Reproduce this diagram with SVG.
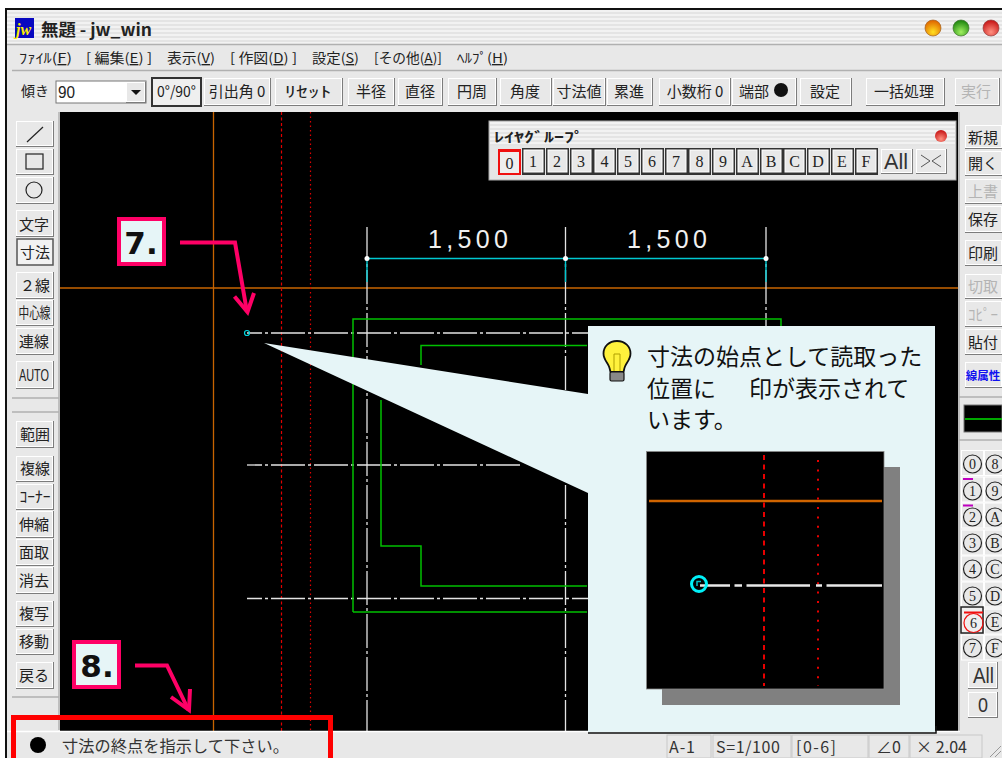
<svg xmlns="http://www.w3.org/2000/svg" width="1002" height="758" viewBox="0 0 1002 758">
<style>
text{font-family:"Noto Sans CJK JP","Liberation Sans",sans-serif;fill:#222}
.b{fill:#7c7c7c}
.f{fill:#e8e8e8;stroke:#fff;stroke-width:1}
.p{fill:#efefef;stroke:#333;stroke-width:2}
.t{font-size:15px;text-anchor:middle}
.m{font-size:13.5px}
.mono{font-family:"Liberation Serif",serif;font-size:16px;text-anchor:middle}
.cn{font-family:"Liberation Serif",serif;font-size:14px;text-anchor:middle}
.c{fill:none;stroke:#222;stroke-width:1.2}
.line{fill:none;stroke-width:1.3}
.dd{stroke:#e4e4e4;stroke-dasharray:34 3 3 3}
.gr{stroke:#00c000;stroke-width:1.5;fill:none}
.cy{stroke:#00c8d0;stroke-width:1.4;fill:none}
.pink{fill:none;stroke:#ff0066;stroke-width:4;stroke-linejoin:miter}
.box{fill:#e6f5f7;stroke:#ff0066;stroke-width:4}
.num{font-family:"DejaVu Sans",sans-serif;font-weight:700;font-size:31px;fill:#111;text-anchor:middle}
.sep{stroke:#b0b0b0;stroke-width:1.5;fill:none}
.cell{fill:#e8e8e8;stroke:#c8c8c8;stroke-width:1}
.s{font-size:16px;fill:#333}
.dim{font-family:"Liberation Sans",sans-serif;font-size:25px;fill:#f0f0f0}
.off{fill:#b4b4b4}
.lb{fill:#333}
</style>
<defs>
<pattern id="stripes" width="4" height="4" patternUnits="userSpaceOnUse"><rect width="4" height="4" fill="#f2f2f2"/><rect width="4" height="2" fill="#e4e4e4"/></pattern>
<radialGradient id="og" cx=".5" cy=".75" r=".7"><stop offset="0" stop-color="#ffe020"/><stop offset="1" stop-color="#e06800"/></radialGradient>
<radialGradient id="gg" cx=".5" cy=".75" r=".7"><stop offset="0" stop-color="#a0f060"/><stop offset="1" stop-color="#208810"/></radialGradient>
<radialGradient id="rg" cx=".5" cy=".75" r=".7"><stop offset="0" stop-color="#ff9080"/><stop offset="1" stop-color="#c81818"/></radialGradient>
</defs>
<rect width="1002" height="758" fill="#fff"/>
<g id="window">
<rect x="5" y="8" width="997" height="750" fill="#111"/>
<rect x="7" y="10" width="995" height="748" fill="#e8e8e8"/>
<rect x="7" y="10" width="995" height="34" fill="url(#stripes)"/>
<path class="sep" d="M7 44.5H1002M12 70.5H1002"/>
</g>
<g id="titlebar">
<rect x="15" y="18" width="19" height="20" fill="#0808c0"/>
<text x="16" y="35" font-size="16" font-weight="700" font-style="italic" style="font-family:'Liberation Serif',serif;fill:#ffee00">jw</text>
<text x="41" y="36" font-size="16.5" font-weight="700" textLength="111" lengthAdjust="spacingAndGlyphs">無題 - jw_win</text>
<circle cx="933" cy="28" r="8" fill="url(#og)" stroke="#a06020" stroke-width=".7"/>
<circle cx="961" cy="28" r="8" fill="url(#gg)" stroke="#407030" stroke-width=".7"/>
<circle cx="991" cy="28" r="8" fill="url(#rg)" stroke="#904040" stroke-width=".7"/>
</g>
<g id="menu">
<text class="m" x="19" y="63" textLength="53" lengthAdjust="spacingAndGlyphs">ﾌｧｲﾙ(<tspan text-decoration="underline">F</tspan>)</text>
<text class="m" x="86" y="63" textLength="66" lengthAdjust="spacingAndGlyphs">[ 編集(<tspan text-decoration="underline">E</tspan>) ]</text>
<text class="m" x="167" y="63" textLength="48" lengthAdjust="spacingAndGlyphs">表示(<tspan text-decoration="underline">V</tspan>)</text>
<text class="m" x="230" y="63" textLength="67" lengthAdjust="spacingAndGlyphs">[ 作図(<tspan text-decoration="underline">D</tspan>) ]</text>
<text class="m" x="312" y="63" textLength="47" lengthAdjust="spacingAndGlyphs">設定(<tspan text-decoration="underline">S</tspan>)</text>
<text class="m" x="374" y="63" textLength="68" lengthAdjust="spacingAndGlyphs">[その他(<tspan text-decoration="underline">A</tspan>)]</text>
<text class="m" x="457" y="63" textLength="51" lengthAdjust="spacingAndGlyphs">ﾍﾙﾌﾟ(<tspan text-decoration="underline">H</tspan>)</text>
</g>
<g id="toolbar">
<text class="t" x="35" y="96" style="font-size:14px">傾き</text>
<rect x="56" y="81" width="90" height="22" fill="#fff" stroke="#777"/>
<text x="58" y="98" style="font-size:17px;font-family:'Liberation Sans',sans-serif" textLength="17" lengthAdjust="spacingAndGlyphs">90</text>
<rect class="b" x="126" y="82" width="20" height="21"/><rect class="f" x="126.500" y="82.500" width="18" height="19"/>
<path d="M131 90h10l-5 5z" fill="#111"/>
<rect class="p" x="152" y="78" width="49" height="28"/><text class="t" x="176.500" y="97" textLength="39" lengthAdjust="spacingAndGlyphs">0°/90°</text>
<rect class="b" x="204" y="78" width="67" height="28"/><rect class="f" x="204.500" y="78.500" width="65" height="26"/><text class="t" x="237" y="97">引出角 0</text>
<rect class="b" x="275" y="78" width="68" height="28"/><rect class="f" x="275.500" y="78.500" width="66" height="26"/><text class="t" x="308" y="97" textLength="47" lengthAdjust="spacingAndGlyphs">ﾘｾｯﾄ</text>
<rect class="b" x="348" y="78" width="47" height="28"/><rect class="f" x="348.500" y="78.500" width="45" height="26"/><text class="t" x="371" y="97">半径</text>
<rect class="b" x="398" y="78" width="45" height="28"/><rect class="f" x="398.500" y="78.500" width="43" height="26"/><text class="t" x="420" y="97">直径</text>
<rect class="b" x="448" y="78" width="49" height="28"/><rect class="f" x="448.500" y="78.500" width="47" height="26"/><text class="t" x="472" y="97">円周</text>
<rect class="b" x="500" y="78" width="52" height="28"/><rect class="f" x="500.500" y="78.500" width="50" height="26"/><text class="t" x="525" y="97">角度</text>
<rect class="b" x="553" y="78" width="53" height="28"/><rect class="f" x="553.500" y="78.500" width="51" height="26"/><text class="t" x="579" y="97">寸法値</text>
<rect class="b" x="607" y="78" width="46" height="28"/><rect class="f" x="607.500" y="78.500" width="44" height="26"/><text class="t" x="629" y="97">累進</text>
<rect class="b" x="659" y="78" width="72" height="28"/><rect class="f" x="659.500" y="78.500" width="70" height="26"/><text class="t" x="695" y="97">小数桁 0</text>
<rect class="b" x="732" y="78" width="65" height="28"/><rect class="f" x="732.500" y="78.500" width="63" height="26"/><text class="t" x="754" y="97">端部</text><circle cx="781" cy="90" r="7" fill="#111"/>
<rect class="b" x="800" y="78" width="52" height="28"/><rect class="f" x="800.500" y="78.500" width="50" height="26"/><text class="t" x="825" y="97">設定</text>
<rect class="b" x="866" y="78" width="79" height="28"/><rect class="f" x="866.500" y="78.500" width="77" height="26"/><text class="t" x="904" y="97">一括処理</text>
<rect class="b" x="955" y="78" width="45" height="28"/><rect class="f" x="955.500" y="78.500" width="43" height="26"/><text class="t off" x="976" y="97">実行</text>
</g>
<g id="left-tools">
<path class="sep" d="M59 112V730M12 398H59M12 412H59M12 697H59"/>
<rect class="b" x="16" y="121" width="38" height="26"/><rect class="f" x="16.500" y="121.500" width="36" height="24"/><path class="c" d="M27 142L43 127"/>
<rect class="b" x="16" y="149" width="38" height="26"/><rect class="f" x="16.500" y="149.500" width="36" height="24"/><rect class="c" x="26" y="154" width="17" height="15"/>
<rect class="b" x="16" y="177" width="38" height="27"/><rect class="f" x="16.500" y="177.500" width="36" height="25"/><circle class="c" cx="34" cy="190" r="8"/>
<rect class="b" x="16" y="210" width="38" height="27"/><rect class="f" x="16.500" y="210.500" width="36" height="25"/><text class="t" x="34" y="230">文字</text>
<rect x="17" y="239" width="36" height="26" fill="#f2f2f2" stroke="#555" stroke-width="1.5"/><text class="t" x="35" y="258">寸法</text>
<rect class="b" x="16" y="272" width="38" height="27"/><rect class="f" x="16.500" y="272.500" width="36" height="25"/><text class="t" x="35" y="291">２線</text>
<rect class="b" x="16" y="300" width="38" height="26"/><rect class="f" x="16.500" y="300.500" width="36" height="24"/><text class="t" x="34.500" y="318" textLength="32" lengthAdjust="spacingAndGlyphs">中心線</text>
<rect class="b" x="16" y="328" width="38" height="27"/><rect class="f" x="16.500" y="328.500" width="36" height="25"/><text class="t" x="34" y="347">連線</text>
<rect class="b" x="16" y="361" width="38" height="28"/><rect class="f" x="16.500" y="361.500" width="36" height="26"/><text class="t" x="34" y="381" style="font-size:17px;font-family:'Liberation Sans',sans-serif" textLength="30" lengthAdjust="spacingAndGlyphs">AUTO</text>
<rect class="b" x="16" y="421" width="38" height="27"/><rect class="f" x="16.500" y="421.500" width="36" height="25"/><text class="t" x="35" y="440">範囲</text>
<rect class="b" x="16" y="456" width="38" height="26"/><rect class="f" x="16.500" y="456.500" width="36" height="24"/><text class="t" x="35" y="474">複線</text>
<rect class="b" x="16" y="484" width="38" height="26"/><rect class="f" x="16.500" y="484.500" width="36" height="24"/><text class="t" x="35" y="502" textLength="31" lengthAdjust="spacingAndGlyphs">ｺｰﾅｰ</text>
<rect class="b" x="16" y="511" width="38" height="27"/><rect class="f" x="16.500" y="511.500" width="36" height="25"/><text class="t" x="34" y="530">伸縮</text>
<rect class="b" x="16" y="539" width="38" height="27"/><rect class="f" x="16.500" y="539.500" width="36" height="25"/><text class="t" x="34" y="558">面取</text>
<rect class="b" x="16" y="567" width="38" height="27"/><rect class="f" x="16.500" y="567.500" width="36" height="25"/><text class="t" x="34" y="586">消去</text>
<rect class="b" x="16" y="601" width="38" height="26"/><rect class="f" x="16.500" y="601.500" width="36" height="24"/><text class="t" x="34" y="619">複写</text>
<rect class="b" x="16" y="629" width="38" height="26"/><rect class="f" x="16.500" y="629.500" width="36" height="24"/><text class="t" x="34" y="647">移動</text>
<rect class="b" x="16" y="662" width="38" height="27"/><rect class="f" x="16.500" y="662.500" width="36" height="25"/><text class="t" x="34" y="681">戻る</text>
</g>
<g id="canvas">
<rect x="60" y="112" width="898" height="619" fill="#000"/>
<path d="M213.500 112V731M60 288H958" stroke="#c86400" stroke-width="1.300" fill="none"/>
<path d="M281.500 112V731" stroke="#e00000" stroke-width="1.200" stroke-dasharray="3 2.500"/>
<path d="M310.500 112V731" stroke="#e00000" stroke-width="1.200" stroke-dasharray="1.500 3"/>
<path class="line dd" d="M247 333H588" stroke-dashoffset="19"/>
<path class="line dd" d="M247 465H520" stroke-dashoffset="19"/>
<path class="line dd" d="M247 598.500H588" stroke-dashoffset="19"/>
<path class="line dd" d="M367 227V731"/>
<path class="line dd" d="M565.500 227V731"/>
<path class="line dd" d="M766 227V330"/>
<path class="gr" d="M353 400V319H781V326M353 612H587M353 319V612"/>
<path class="gr" d="M421 365V345.500H587M381 400V546H421V586H587"/>
<path class="cy" d="M367 258.500H766M367 258V282M565.500 258V282M766 258V282"/>
<g fill="#fff"><circle cx="367" cy="258.500" r="2.500"/><circle cx="565.500" cy="258.500" r="2.500"/><circle cx="766" cy="258.500" r="2.500"/></g>
<text class="dim" x="428" y="248" textLength="80">1,500</text>
<text class="dim" x="627" y="248" textLength="80">1,500</text>
<circle cx="247" cy="333" r="2.500" fill="none" stroke="#00d8e0" stroke-width="1.200"/>
</g>
<g id="layer-group">
<rect x="489" y="121" width="467" height="59" fill="#e6e6e6" stroke="#aaa"/>
<rect x="490" y="122" width="465" height="24" fill="url(#stripes)"/>
<text x="494" y="142" style="font-size:13.500px;font-weight:700" textLength="90" lengthAdjust="spacingAndGlyphs">ﾚｲﾔｸﾞﾙｰﾌﾟ</text>
<circle cx="941" cy="136" r="6" fill="url(#rg)"/>
<rect x="499" y="150" width="21" height="24" fill="#eee" stroke="#f01010" stroke-width="2"/><path d="M499 150.500h21" stroke="#f01010" stroke-width="3"/><text class="mono" x="509.500" y="169">0</text>
<g id="layer-buttons">
<rect class="b" x="522" y="148" width="23" height="27" style="fill:#333"/><rect class="f" x="524" y="150" width="19" height="22"/><text class="mono" x="533" y="167">1</text>
<rect class="b" x="546" y="148" width="23" height="27" style="fill:#333"/><rect class="f" x="548" y="150" width="19" height="22"/><text class="mono" x="557" y="167">2</text>
<rect class="b" x="570" y="148" width="23" height="27" style="fill:#333"/><rect class="f" x="572" y="150" width="19" height="22"/><text class="mono" x="581" y="167">3</text>
<rect class="b" x="593" y="148" width="23" height="27" style="fill:#333"/><rect class="f" x="595" y="150" width="19" height="22"/><text class="mono" x="604.500" y="167">4</text>
<rect class="b" x="617" y="148" width="23" height="27" style="fill:#333"/><rect class="f" x="619" y="150" width="19" height="22"/><text class="mono" x="628" y="167">5</text>
<rect class="b" x="641" y="148" width="23" height="27" style="fill:#333"/><rect class="f" x="643" y="150" width="19" height="22"/><text class="mono" x="652" y="167">6</text>
<rect class="b" x="665" y="148" width="23" height="27" style="fill:#333"/><rect class="f" x="667" y="150" width="19" height="22"/><text class="mono" x="676" y="167">7</text>
<rect class="b" x="688" y="148" width="23" height="27" style="fill:#333"/><rect class="f" x="690" y="150" width="19" height="22"/><text class="mono" x="699.500" y="167">8</text>
<rect class="b" x="712" y="148" width="23" height="27" style="fill:#333"/><rect class="f" x="714" y="150" width="19" height="22"/><text class="mono" x="723" y="167">9</text>
<rect class="b" x="736" y="148" width="23" height="27" style="fill:#333"/><rect class="f" x="738" y="150" width="19" height="22"/><text class="mono" x="747" y="167">A</text>
<rect class="b" x="760" y="148" width="23" height="27" style="fill:#333"/><rect class="f" x="762" y="150" width="19" height="22"/><text class="mono" x="771" y="167">B</text>
<rect class="b" x="783" y="148" width="23" height="27" style="fill:#333"/><rect class="f" x="785" y="150" width="19" height="22"/><text class="mono" x="794.500" y="167">C</text>
<rect class="b" x="807" y="148" width="23" height="27" style="fill:#333"/><rect class="f" x="809" y="150" width="19" height="22"/><text class="mono" x="818" y="167">D</text>
<rect class="b" x="831" y="148" width="23" height="27" style="fill:#333"/><rect class="f" x="833" y="150" width="19" height="22"/><text class="mono" x="842" y="167">E</text>
<rect class="b" x="855" y="148" width="23" height="27" style="fill:#333"/><rect class="f" x="857" y="150" width="19" height="22"/><text class="mono" x="866" y="167">F</text>
</g>
<rect class="b" x="881" y="149" width="32" height="25"/><rect class="f" x="881.500" y="149.500" width="30" height="23"/><text class="lb" x="884" y="169" style="font-size:22px;font-family:'Liberation Sans',sans-serif" textLength="24" lengthAdjust="spacingAndGlyphs">All</text>
<rect class="b" x="916" y="149" width="31" height="25"/><rect class="f" x="916.500" y="149.500" width="29" height="23"/><path d="M921 155l9 6-9 6M941 155l-9 6 9 6" fill="none" stroke="#555" stroke-width="1"/>
</g>
<g id="right-tools">
<path class="sep" d="M959 112V731M959 397H1002M959 440H1002"/>
<rect class="b" x="965" y="125" width="37" height="24"/><rect class="f" x="965.500" y="125.500" width="36" height="22"/><text class="t" x="983" y="143">新規</text>
<rect class="b" x="965" y="151" width="37" height="25"/><rect class="f" x="965.500" y="151.500" width="36" height="23"/><text class="t" x="983" y="169">開く</text>
<rect class="b" x="965" y="179" width="37" height="25"/><rect class="f" x="965.500" y="179.500" width="36" height="23"/><text class="t off" x="983" y="197">上書</text>
<rect class="b" x="965" y="206" width="37" height="27"/><rect class="f" x="965.500" y="206.500" width="36" height="25"/><text class="t" x="983" y="225">保存</text>
<rect class="b" x="965" y="240" width="37" height="26"/><rect class="f" x="965.500" y="240.500" width="36" height="24"/><text class="t" x="983" y="259">印刷</text>
<rect class="b" x="965" y="274" width="37" height="25"/><rect class="f" x="965.500" y="274.500" width="36" height="23"/><text class="t off" x="983" y="292">切取</text>
<rect class="b" x="965" y="301" width="37" height="26"/><rect class="f" x="965.500" y="301.500" width="36" height="24"/><text class="t off" x="983" y="320" textLength="30" lengthAdjust="spacingAndGlyphs">ｺﾋﾟｰ</text>
<rect class="b" x="965" y="329" width="37" height="26"/><rect class="f" x="965.500" y="329.500" width="36" height="24"/><text class="t" x="983" y="348">貼付</text>
<rect class="b" x="965" y="362" width="37" height="26"/><rect class="f" x="965.500" y="362.500" width="36" height="24"/><text class="t" x="983" y="380" style="fill:#1010f0;font-size:11.500px;font-weight:700">線属性</text>
<rect x="964" y="405" width="38" height="27" fill="#000" stroke="#777"/><path d="M965 419H1002" stroke="#00e000" stroke-width="1.300"/>
</g>
<g id="line-buttons">
<g id="circle-row-0"><rect class="f" x="961.500" y="450.500" width="22" height="25"/><circle class="c" cx="972.500" cy="464" r="9"/><text class="cn" x="972.500" y="469">0</text><rect class="f" x="984.500" y="450.500" width="18" height="25"/><circle class="c" cx="995" cy="464" r="9"/><text class="cn" x="995" y="469">8</text></g>
<g id="circle-row-1"><rect class="f" x="961.500" y="477" width="22" height="25"/><path d="M963 479h10" stroke="#c000c0" stroke-width="2"/><circle class="c" cx="972.500" cy="491" r="9"/><text class="cn" x="972.500" y="496">1</text><rect class="f" x="984.500" y="477" width="18" height="25"/><circle class="c" cx="995" cy="491" r="9"/><text class="cn" x="995" y="496">9</text></g>
<g id="circle-row-2"><rect class="f" x="961.500" y="503" width="22" height="25"/><path d="M963 505.500h10" stroke="#c000c0" stroke-width="2"/><circle class="c" cx="972.500" cy="517" r="9"/><text class="cn" x="972.500" y="522">2</text><rect class="f" x="984.500" y="503" width="18" height="25"/><circle class="c" cx="995" cy="517" r="9"/><text class="cn" x="995" y="522">A</text></g>
<g id="circle-row-3"><rect class="f" x="961.500" y="530" width="22" height="25"/><circle class="c" cx="972.500" cy="543" r="9"/><text class="cn" x="972.500" y="548">3</text><rect class="f" x="984.500" y="530" width="18" height="25"/><circle class="c" cx="995" cy="543" r="9"/><text class="cn" x="995" y="548">B</text></g>
<g id="circle-row-4"><rect class="f" x="961.500" y="556" width="22" height="25"/><circle class="c" cx="972.500" cy="569" r="9"/><text class="cn" x="972.500" y="574">4</text><rect class="f" x="984.500" y="556" width="18" height="25"/><circle class="c" cx="995" cy="569" r="9"/><text class="cn" x="995" y="574">C</text></g>
<g id="circle-row-5"><rect class="f" x="961.500" y="582" width="22" height="25"/><circle class="c" cx="972.500" cy="596" r="9"/><text class="cn" x="972.500" y="601">5</text><rect class="f" x="984.500" y="582" width="18" height="25"/><circle class="c" cx="995" cy="596" r="9"/><text class="cn" x="995" y="601">D</text></g>
<g id="circle-row-6"><rect x="961" y="607" width="22" height="26" fill="#efefef" stroke="#222" stroke-width="1.500"/><path d="M964 612.500h19" stroke="#f01010" stroke-width="2"/><circle cx="973.500" cy="623" r="9.500" fill="none" stroke="#f01010" stroke-width="1.200"/><text class="cn" x="973.500" y="628">6</text><rect class="f" x="984.500" y="609" width="18" height="25"/><circle class="c" cx="995" cy="622" r="9"/><text class="cn" x="995" y="627">E</text></g>
<g id="circle-row-7"><rect class="f" x="961.500" y="635" width="22" height="25"/><circle class="c" cx="972.500" cy="648" r="9"/><text class="cn" x="972.500" y="653">7</text><rect class="f" x="984.500" y="635" width="18" height="25"/><circle class="c" cx="995" cy="648" r="9"/><text class="cn" x="995" y="653">F</text></g>
<rect class="b" x="968" y="662" width="30" height="27"/><rect class="f" x="968.500" y="662.500" width="28" height="25"/><text class="lb" x="973" y="683" style="font-size:22px;font-family:'Liberation Sans',sans-serif" textLength="21" lengthAdjust="spacingAndGlyphs">All</text>
<rect class="b" x="968" y="692" width="30" height="26"/><rect class="f" x="968.500" y="692.500" width="28" height="24"/><text class="lb" x="978" y="712" style="font-size:20px;font-family:'Liberation Sans',sans-serif" textLength="10" lengthAdjust="spacingAndGlyphs">0</text>
</g>
<g id="statusbar">
<rect x="7" y="731" width="995" height="27" fill="#e8e8e8"/>
<path d="M7 731.500H960" stroke="#fff" stroke-width="1.500"/>
<circle cx="38" cy="745" r="8" fill="#000"/>
<text x="62" y="752" style="font-size:16.200px;fill:#333" textLength="227">寸法の終点を指示して下さい。</text>
<rect class="cell" x="667" y="735" width="44" height="23"/><text class="s" x="669" y="753" textLength="26">A-1</text>
<rect class="cell" x="713" y="735" width="78" height="23"/><text class="s" x="716" y="753" textLength="64">S=1/100</text>
<rect class="cell" x="792" y="735" width="76" height="23"/><text class="s" x="796" y="753" textLength="40">[0-6]</text>
<rect class="cell" x="869" y="735" width="40" height="23"/><text class="s" x="876" y="753">∠0</text>
<rect class="cell" x="910" y="735" width="72" height="23"/><text class="s" x="916" y="753" textLength="51">× 2.04</text>
<path d="M990 757l11-11M995 757l6-6" stroke="#999" fill="none"/>
</g>
<g id="connectors">
<path class="pink" d="M180 242.500H235L247 312"/>
<path class="pink" d="M234.500 296.500L247.500 312L254 293"/>
<path class="pink" d="M135 665.500H167L188.500 710"/>
<path class="pink" d="M171 697L189 710L190 689"/>
</g>
<g id="step-7"><rect class="box" x="119" y="219" width="45" height="45"/><text class="num" x="141" y="254">7.</text></g>
<g id="step-8"><rect class="box" x="74" y="642" width="45" height="45"/><text class="num" x="97" y="677">8.</text></g>
<g id="status-highlight"><path d="M13.500 758V717.500H330.500V758" fill="none" stroke="#ff0000" stroke-width="5"/></g>
<g id="callout">
<path d="M588 326H935V732H588V493L264 343L588 394Z" fill="#e6f5f7"/>
<path d="M588 733H936V726" stroke="#111" stroke-width="1.500" fill="none"/>
<g id="bulb">
<path d="M617 341c-8 0-13.500 5.500-13.500 12.500 0 6 4 9 5.500 13 1 2.500 1 4 1.500 5.500h13c.5-1.500.5-3 1.500-5.500 1.500-4 5.500-7 5.500-13 0-7-5.500-12.500-13.500-12.500z" fill="#fff23c" stroke="#111" stroke-width="1.800"/>
<path d="M614 371V354h6V371" fill="none" stroke="#b0a000" stroke-width="1"/>
<rect x="610" y="372" width="14" height="9" rx="1.500" fill="#888" stroke="#111" stroke-width="1.200"/>
</g>
<text x="647" y="365" style="font-size:23px;fill:#111">寸法の始点として読取った</text>
<text x="647" y="397" style="font-size:23px;fill:#111">位置に<tspan x="749">印が表示されて</tspan></text>
<text x="647" y="428" style="font-size:23px;fill:#111">います。</text>
<g id="callout-inset">
<rect x="662" y="467" width="238" height="238" fill="#808080"/>
<rect x="646.500" y="451.500" width="237.500" height="237.500" fill="#000" stroke="#888" stroke-width=".8"/>
<path d="M649 501H882" stroke="#d06400" stroke-width="2.500"/>
<path d="M764 455V686" stroke="#e80000" stroke-width="2" stroke-dasharray="5 4.500"/>
<path d="M818 460V686" stroke="#e80000" stroke-width="2" stroke-dasharray="2 7.400"/>
<path d="M700 585.500H730M734.500 585.500H742M746.500 585.500H810M816 585.500H822M826.500 585.500H882" stroke="#e8e8e8" stroke-width="2.500"/>
<circle cx="699" cy="584" r="7.500" fill="none" stroke="#00f0f8" stroke-width="3"/>
<path d="M697 586V581.500H701" fill="none" stroke="#00c0c8" stroke-width="1.500"/>
</g>
</g>
</svg>
